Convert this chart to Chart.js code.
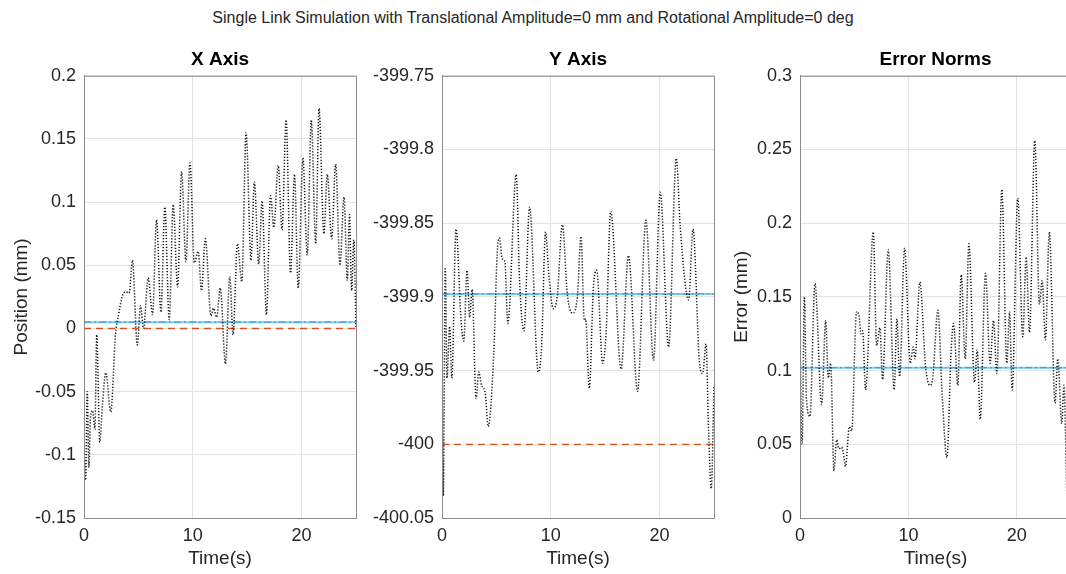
<!DOCTYPE html>
<html>
<head>
<meta charset="utf-8">
<script src="https://cdn.jsdelivr.net/npm/chart.js@4.4.1/dist/chart.umd.min.js"></script>
<style>
  html, body { margin: 0; padding: 0; background: #fff; overflow: hidden; }
  body { width: 1066px; height: 574px; position: relative; font-family: 'Liberation Sans', Arial, sans-serif; }
  #suptitle { position: absolute; top: 9px; left: 0; width: 1066px; text-align: center; font-size: 16px; color: #262626; }
  .panel { position: absolute; top: 30px; height: 544px; }
</style>
</head>
<body>
<div id="suptitle">Single Link Simulation with Translational Amplitude=0 mm and Rotational Amplitude=0 deg</div>
<div class="panel" style="left:0px;width:366px"><canvas id="xChart"></canvas></div>
<div class="panel" style="left:366px;width:358px"><canvas id="yChart"></canvas></div>
<div class="panel" style="left:724px;width:357px"><canvas id="eChart"></canvas></div>
<script>
// X axis position (mm) vs time (s)
var xTime = [0, 0.15, 0.3, 0.45, 0.6, 0.8, 1.0, 1.17, 1.45, 1.7, 2.0, 2.46, 2.9, 3.2, 3.5, 3.85, 4.15, 4.45, 4.9, 5.2, 5.47, 5.9, 6.3, 6.67, 7.07, 7.43, 7.83, 8.2, 8.6, 8.97, 9.37, 9.74, 10.14, 10.5, 10.8, 11.15, 11.67, 11.9, 12.2, 12.53, 13.0, 13.4, 13.7, 14.1, 14.5, 14.9, 15.35, 15.66, 16.06, 16.37, 16.77, 17.14, 17.45, 17.85, 18.2, 18.58, 18.98, 19.35, 19.69, 20.12, 20.52, 20.89, 21.3, 21.6, 22.05, 22.36, 22.76, 23.13, 23.53, 23.9, 24.2, 24.4, 24.6, 24.8, 25];
var xPos = [-0.09, -0.12, -0.05, -0.11, -0.07, -0.065, -0.08, -0.005, -0.09, -0.06, -0.035, -0.066, -0.004, 0.012, 0.025, 0.029, 0.028, 0.054, -0.013, 0.018, 0.0, 0.04, 0.011, 0.086, 0.013, 0.096, 0.007, 0.098, 0.033, 0.124, 0.053, 0.131, 0.052, 0.061, 0.03, 0.071, 0.01, 0.016, 0.009, 0.032, -0.028, 0.041, -0.005, 0.067, 0.037, 0.155, 0.054, 0.116, 0.051, 0.101, 0.011, 0.105, 0.08, 0.129, 0.078, 0.165, 0.044, 0.122, 0.032, 0.135, 0.058, 0.165, 0.067, 0.174, 0.075, 0.122, 0.071, 0.13, 0.05, 0.104, 0.038, 0.09, 0.03, 0.07, 0.0];
var xTarget = 0;
var xMean = 0.005;

// Y axis position (mm) vs time (s)
var yTime = [0, 0.12, 0.3, 0.46, 0.7, 0.9, 1.29, 1.75, 2.0, 2.3, 2.55, 2.77, 3.13, 3.38, 3.63, 3.84, 4.0, 4.24, 4.76, 5.07, 5.28, 5.53, 5.78, 6.05, 6.82, 7.13, 7.53, 8.05, 8.85, 9.15, 9.52, 9.83, 10.23, 10.6, 11.06, 11.52, 11.98, 12.44, 12.78, 13.08, 13.2, 13.54, 13.91, 14.22, 14.77, 15.08, 15.51, 16.46, 17.14, 17.97, 18.74, 19.44, 20.06, 20.83, 21.53, 21.9, 22.67, 23.07, 23.65, 23.96, 24.27, 24.5, 24.75, 25];
var yPos = [-399.92, -400.035, -399.88, -399.955, -399.92, -399.955, -399.854, -399.916, -399.93, -399.882, -399.914, -399.895, -399.969, -399.951, -399.96, -399.962, -399.967, -399.988, -399.938, -399.871, -399.86, -399.874, -399.876, -399.918, -399.817, -399.889, -399.923, -399.839, -399.951, -399.934, -399.856, -399.886, -399.908, -399.899, -399.851, -399.898, -399.911, -399.9, -399.859, -399.916, -399.915, -399.962, -399.894, -399.882, -399.945, -399.925, -399.842, -399.949, -399.872, -399.964, -399.848, -399.943, -399.829, -399.934, -399.806, -399.853, -399.902, -399.854, -399.943, -399.952, -399.932, -399.99, -400.03, -399.96];
var yTarget = -400;
var yMean = -399.898;

// Error norms (mm) vs time (s)
var eTime = [0, 0.2, 0.4, 0.6, 0.92, 1.38, 2.0, 2.37, 2.61, 2.83, 3.13, 3.38, 3.6, 3.84, 4.0, 4.2, 4.55, 4.76, 5.22, 5.45, 5.62, 5.78, 6.05, 6.76, 7.07, 7.37, 7.62, 8.14, 8.69, 8.94, 9.19, 9.65, 10.17, 10.45, 10.6, 11.06, 11.58, 11.98, 12.26, 12.72, 13.12, 13.55, 13.95, 14.16, 14.56, 14.87, 15.24, 15.58, 16.1, 16.35, 16.62, 17.11, 17.54, 17.85, 18.16, 18.62, 19.08, 19.33, 19.57, 20.09, 20.55, 20.86, 21.17, 21.66, 22.09, 22.34, 22.64, 23.0, 23.53, 23.78, 24.15, 24.35, 24.7, 25];
var eNorm = [0.12, 0.05, 0.15, 0.08, 0.069, 0.159, 0.077, 0.134, 0.095, 0.105, 0.032, 0.053, 0.047, 0.048, 0.044, 0.035, 0.062, 0.059, 0.14, 0.137, 0.125, 0.127, 0.087, 0.194, 0.117, 0.129, 0.094, 0.182, 0.087, 0.135, 0.096, 0.183, 0.105, 0.116, 0.108, 0.16, 0.103, 0.09, 0.096, 0.141, 0.083, 0.041, 0.115, 0.132, 0.09, 0.165, 0.108, 0.186, 0.092, 0.114, 0.067, 0.166, 0.105, 0.134, 0.098, 0.223, 0.105, 0.14, 0.087, 0.217, 0.123, 0.177, 0.126, 0.256, 0.145, 0.161, 0.121, 0.194, 0.078, 0.108, 0.064, 0.09, 0.0, 0.05];
var eMean = 0.102;

var fontFamily = "'Liberation Sans', Arial, sans-serif";
var textColor = '#262626';

// top and right edges of the MATLAB-style box
var boxPlugin = {
  id: 'box',
  afterDatasetsDraw: function(chart) {
    var a = chart.chartArea;
    var ctx = chart.ctx;
    ctx.save();
    ctx.strokeStyle = '#8c8c8c';
    ctx.lineWidth = 1;
    ctx.strokeRect(a.left + 0.5, a.top + 0.5, a.right - a.left, a.bottom - a.top);
    ctx.restore();
  }
};

function toPoints(ts, vs) {
  var pts = [];
  for (var i = 0; i < ts.length; i++) pts.push({x: ts[i], y: vs[i]});
  return pts;
}

function makePanel(id, title, ts, vs, target, mean, yMin, yMax, yTitle, axisWidth, titlePad) {
  var ctx = document.getElementById(id).getContext('2d');
  var datasets = [
    {
      data: toPoints(ts, vs),
      borderColor: '#111',
      borderWidth: 1.5,
      borderDash: [1.2, 1.8],
      pointRadius: 0,
      cubicInterpolationMode: 'monotone',
      fill: false
    },
    {
      data: [{x: 0, y: mean}, {x: 25, y: mean}],
      borderColor: 'rgba(77,190,238,0.75)',
      borderWidth: 2,
      pointRadius: 0,
      fill: false
    },
    {
      data: [{x: 0, y: mean}, {x: 25, y: mean}],
      borderColor: '#2f5f86',
      borderWidth: 1.2,
      borderDash: [7, 3, 2, 3],
      pointRadius: 0,
      fill: false
    }
  ];
  if (target !== null) {
    datasets.push({
      data: [{x: 0, y: target}, {x: 25, y: target}],
      borderColor: '#D95319',
      borderWidth: 1.3,
      borderDash: [7, 5],
      pointRadius: 0,
      fill: false
    });
  }
  return new Chart(ctx, {
    type: 'line',
    data: { datasets: datasets },
    plugins: [boxPlugin],
    options: {
      responsive: true,
      maintainAspectRatio: false,
      animation: false,
      layout: { padding: { top: 0, right: 10, bottom: 0, left: 0 } },
      plugins: {
        legend: { display: false },
        tooltip: { enabled: false },
        title: {
          display: true,
          fullSize: false,
          text: title,
          color: '#000',
          font: { family: fontFamily, size: 19, weight: 'bold' },
          padding: { top: 18, bottom: 5 }
        }
      },
      scales: {
        x: {
          type: 'linear',
          min: 0,
          max: 25,
          afterBuildTicks: function(scale) {
            scale.ticks = scale.ticks.filter(function(t) { return t.value % 10 === 0; });
          },
          afterFit: function(scale) { scale.height = 56; },
          grid: { color: '#e3e3e3', drawTicks: false },
          border: { color: '#8c8c8c' },
          ticks: { color: textColor, padding: 7, maxRotation: 0, font: { family: fontFamily, size: 18 } },
          title: { display: true, text: 'Time(s)', color: textColor, padding: { top: 2 }, font: { family: fontFamily, size: 19 } }
        },
        y: {
          min: yMin,
          max: yMax,
          ticks: {
            stepSize: 0.05,
            color: textColor,
            padding: 8,
            font: { family: fontFamily, size: 18 },
            callback: function(v) { return Math.round(v * 100) / 100 + ''; }
          },
          afterFit: function(scale) { scale.width = axisWidth; },
          grid: { color: '#e3e3e3', drawTicks: false },
          border: { color: '#8c8c8c' },
          title: { display: yTitle !== '', text: yTitle, color: textColor, padding: { top: titlePad, bottom: 0 }, font: { family: fontFamily, size: 19 } }
        }
      }
    }
  });
}

makePanel('xChart', 'X Axis', xTime, xPos, xTarget, xMean, -0.15, 0.2, 'Position (mm)', 84, 10);
makePanel('yChart', 'Y Axis', yTime, yPos, yTarget, yMean, -400.05, -399.75, '', 76, 0);
makePanel('eChart', 'Error Norms', eTime, eNorm, null, eMean, 0, 0.3, 'Error (mm)', 76, 6);
</script>
</body>
</html>
